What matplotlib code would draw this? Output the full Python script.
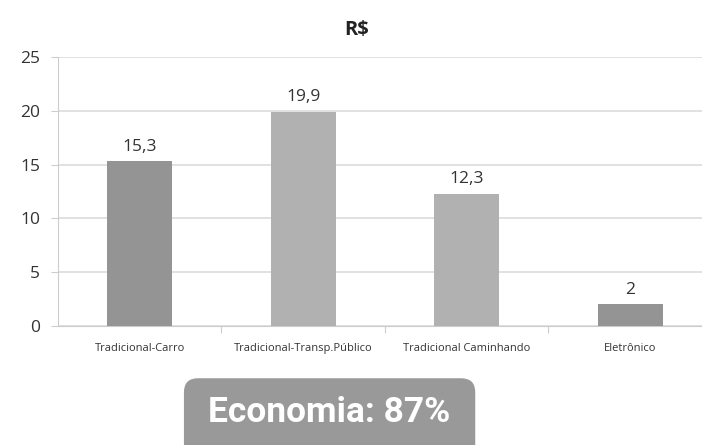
import matplotlib.pyplot as plt
from matplotlib.patches import FancyBboxPatch

categories = ['Tradicional-Carro', 'Tradicional-Transp.Público',
              'Tradicional Caminhando', 'Eletrônico']
values = [15.3, 19.9, 12.3, 2]
value_labels = ['15,3', '19,9', '12,3', '2']
bar_colors = ['#949494', '#b1b1b1', '#b1b1b1', '#949494']

plt.rcParams['font.family'] = ['Open Sans', 'DejaVu Sans']

fig = plt.figure(figsize=(7.02, 4.45), dpi=100)
ax = fig.add_axes([0.0826, 0.2674, 0.9316, 0.6045])

x = range(len(categories))
ax.bar(x, values, width=0.4, color=bar_colors, zorder=3)

# value labels above bars
for i, v in enumerate(values):
    ax.text(i, v + 0.6, value_labels[i], ha='center', va='bottom',
            fontsize=12.5, color='#333333')

ax.set_xlim(-0.5, 3.5)
ax.set_ylim(0, 25)
ax.set_yticks([0, 5, 10, 15, 20, 25])
ax.yaxis.grid(True, color='#dcdcdc', linewidth=1.2, zorder=0)

ax.set_xticks([i + 0.5 for i in range(3)])
ax.set_xticklabels([])
ax.set_xticks(list(x), minor=True)
ax.set_xticklabels(categories, minor=True, fontsize=8, color='#333333')
ax.tick_params(axis='x', which='minor', length=0, pad=12)
ax.tick_params(axis='x', which='major', length=5, color='#cccccc')
ax.tick_params(axis='y', length=5, color='#cccccc', labelsize=12.5,
               labelcolor='#333333', pad=8)

for s in ['top', 'right']:
    ax.spines[s].set_visible(False)
ax.spines['left'].set_color('#cccccc')
ax.spines['bottom'].set_color('#cccccc')

fig.text(0.508, 0.932, 'R$', ha='center', va='center', fontsize=14.5,
         fontweight='bold', color='#222222')

# "Economia" box
box = FancyBboxPatch((0.262, -0.05), 0.415, 0.2,
                     boxstyle='round,pad=0,rounding_size=0.02',
                     transform=fig.transFigure, facecolor='#999999',
                     edgecolor='none', mutation_aspect=702 / 445)
fig.patches.append(box)
fig.text(0.469, 0.072, 'Economia: 87%', ha='center', va='center',
         fontsize=25.5, fontweight='bold', color='white',
         family=['Roboto', 'DejaVu Sans'])

fig.savefig('out.png', dpi=100)
